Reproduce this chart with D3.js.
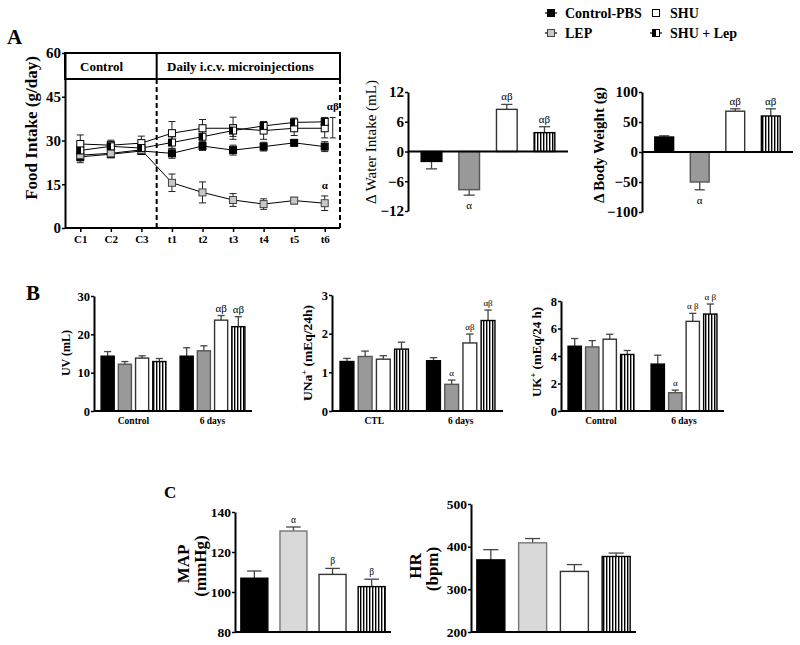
<!DOCTYPE html>
<html><head><meta charset="utf-8">
<script src="https://cdn.jsdelivr.net/npm/d3@7"></script>
<style>
body{margin:0;background:#fff}
svg{display:block}
text{font-family:"Liberation Serif","Times New Roman",serif;font-weight:bold;fill:#000}
</style>
</head><body>
<svg id="c" width="800" height="645"></svg>
<script>
// ---------------- DATA ----------------
const groups = ["Control-PBS", "LEP", "SHU", "SHU + Lep"];
const days = ["C1", "C2", "C3", "t1", "t2", "t3", "t4", "t5", "t6"];
const foodTicks = [0, 15, 30, 45, 60];
const foodControlPBS    = [24.4, 25.3, 26.4, 25.6, 28.1, 26.7, 27.9, 29.2, 27.9];
const foodControlPBSErr = [2.0, 1.2, 1.0, 1.7, 1.5, 1.7, 1.5, 1.0, 1.7];
const foodLEP           = [25.0, 25.6, 26.8, 15.5, 12.2, 9.6, 8.2, 9.4, 8.5];
const foodLEPErr        = [2.0, 1.2, 1.0, 3.0, 3.6, 2.2, 1.8, 1.1, 2.5];
const foodSHU           = [28.8, 28.4, 29.1, 32.5, 34.2, 34.2, 33.4, 34.2, 34.2];
const foodSHUErr        = [3.1, 1.7, 2.4, 4.0, 3.0, 3.8, 3.0, 2.5, 3.3];
const foodSHULep        = [26.6, 28.0, 27.4, 29.3, 31.3, 33.4, 35.0, 36.2, 36.4];
const foodSHULepErr     = [2.0, 1.5, 1.5, 2.0, 2.0, 2.0, 1.5, 1.5, 1.5];

const waterTicks = [-12, -6, 0, 6, 12];
const waterIntake = [-2.0, -7.7, 8.5, 3.8];
const waterErr    = [1.5, 1.1, 1.0, 1.2];
const waterSig    = ["", "α", "αβ", "αβ"];

const bodyTicks = [-100, -50, 0, 50, 100];
const bodyWeight = [25, -50, 68, 60];
const bodyErr    = [2, 13, 4, 12];
const bodySig    = ["", "α", "αβ", "αβ"];

const uvCats = ["Control", "6 days"];
const uvTicks = [0, 10, 20, 30];
const uvControl = [14.3, 12.2, 13.8, 12.9];
const uvControlErr = [1.2, 0.7, 0.6, 0.8];
const uv6Days = [14.3, 15.7, 23.7, 22.0];
const uv6DaysErr = [2.2, 1.3, 1.2, 2.6];
const uv6DaysSig = ["", "", "αβ", "αβ"];

const unaCats = ["CTL", "6 days"];
const unaTicks = [0, 1, 2, 3];
const unaControl = [1.28, 1.41, 1.34, 1.60];
const unaControlErr = [0.08, 0.14, 0.09, 0.18];
const una6Days = [1.30, 0.69, 1.76, 2.34];
const una6DaysErr = [0.08, 0.11, 0.23, 0.27];
const una6DaysSig = ["", "α", "αβ", "αβ"];

const ukCats = ["Control", "6 days"];
const ukTicks = [0, 2, 4, 6, 8];
const ukControl = [4.71, 4.66, 5.22, 4.11];
const ukControlErr = [0.56, 0.46, 0.36, 0.29];
const uk6Days = [3.41, 1.33, 6.52, 7.05];
const uk6DaysErr = [0.65, 0.19, 0.58, 0.73];
const uk6DaysSig = ["", "α", "α β", "α β"];

const mapTicks = [80, 100, 120, 140];
const mapValues = [106.9, 130.5, 108.8, 102.7];
const mapErr    = [3.6, 2.0, 3.0, 3.7];
const mapSig    = ["", "α", "β", "β"];

const hrTicks = [200, 300, 400, 500];
const hrValues = [369, 409, 342, 377];
const hrErr    = [24, 10, 16, 8];
const hrSig    = ["", "", "", ""];

// ---------------- DRAWING ----------------
const FONT = '"Liberation Serif","Times New Roman",serif';
const svg = d3.select("#c");
const defs = svg.append("defs");
const pat = defs.append("pattern").attr("id", "stripes")
  .attr("patternUnits", "userSpaceOnUse").attr("width", 3).attr("height", 10);
pat.append("rect").attr("width", 3).attr("height", 10).attr("fill", "#fff");
pat.append("rect").attr("width", 1.4).attr("height", 10).attr("fill", "#000");
const half = defs.append("linearGradient").attr("id", "halfblack");
half.append("stop").attr("offset", "0%").attr("stop-color", "#000");
half.append("stop").attr("offset", "55%").attr("stop-color", "#000");
half.append("stop").attr("offset", "55%").attr("stop-color", "#fff");
half.append("stop").attr("offset", "100%").attr("stop-color", "#fff");

function styleAxis(sel, size) {
  sel.select(".domain").attr("stroke", "#000").attr("stroke-width", 2);
  sel.selectAll(".tick line").attr("stroke", "#000").attr("stroke-width", 1.5);
  sel.selectAll(".tick text").style("font-family", FONT).style("font-weight", "bold")
    .style("font-size", size + "px").attr("fill", "#000");
}

// panel letters
svg.append("text").attr("x", 7).attr("y", 44).style("font-size", "21px").text("A");
svg.append("text").attr("x", 26).attr("y", 300).style("font-size", "21px").text("B");
svg.append("text").attr("x", 164).attr("y", 498).style("font-size", "17px").text("C");

// ---------- Panel A: food intake line chart ----------
(function () {
  const x = d3.scalePoint().domain(days).range([65, 340]).padding(0.5);
  const y = d3.scaleLinear().domain([0, 60]).range([228, 53]);
  const g = svg.append("g");
  const xDiv = (x("C3") + x("t1")) / 2;
  const yHead = 79;
  g.append("rect").attr("x", 65).attr("y", y(60)).attr("width", 275).attr("height", yHead - y(60))
    .attr("fill", "none").attr("stroke", "#000").attr("stroke-width", 2);
  g.append("line").attr("x1", xDiv).attr("x2", xDiv).attr("y1", y(60)).attr("y2", yHead)
    .attr("stroke", "#000").attr("stroke-width", 2);
  g.append("line").attr("x1", xDiv).attr("x2", xDiv).attr("y1", yHead).attr("y2", y(0))
    .attr("stroke", "#000").attr("stroke-width", 2).attr("stroke-dasharray", "5,3");
  g.append("line").attr("x1", 340).attr("x2", 340).attr("y1", yHead).attr("y2", y(0))
    .attr("stroke", "#000").attr("stroke-width", 2).attr("stroke-dasharray", "5,3");
  g.append("text").attr("x", 80).attr("y", 71).style("font-size", "13px").text("Control");
  g.append("text").attr("x", 167).attr("y", 71).style("font-size", "13px").text("Daily i.c.v. microinjections");

  const ya = g.append("g").attr("transform", "translate(65,0)")
    .call(d3.axisLeft(y).tickValues(foodTicks).tickFormat(d3.format("~g")).tickSize(3).tickPadding(1).tickSizeOuter(0));
  styleAxis(ya, 15);
  const xa = g.append("g").attr("transform", `translate(0,${y(0)})`)
    .call(d3.axisBottom(x).tickSize(4).tickPadding(3).tickSizeOuter(0));
  styleAxis(xa, 11);
  xa.select(".domain").attr("d", "M65,0H340");

  g.append("text").attr("transform", `translate(37,128) rotate(-90)`)
    .attr("text-anchor", "middle").style("font-size", "17px").text("Food Intake (g/day)");

  const series = [
    { v: foodControlPBS, e: foodControlPBSErr, fill: "#000", stroke: "#000" },
    { v: foodLEP, e: foodLEPErr, fill: "#c8c8c8", stroke: "#444" },
    { v: foodSHU, e: foodSHUErr, fill: "#fff", stroke: "#000" },
    { v: foodSHULep, e: foodSHULepErr, fill: "url(#halfblack)", stroke: "#000" }
  ];
  const line = d3.line().x((d, i) => x(days[i])).y(d => y(d));
  series.forEach(s => {
    g.append("path").attr("d", line(s.v)).attr("fill", "none").attr("stroke", "#000").attr("stroke-width", 1);
  });
  series.forEach(s => {
    s.v.forEach((v, i) => {
      const cx = x(days[i]);
      const t = y(v + s.e[i]), b = y(v - s.e[i]);
      g.append("line").attr("x1", cx).attr("x2", cx).attr("y1", t).attr("y2", b).attr("stroke", "#222").attr("stroke-width", 1);
      [t, b].forEach(yy => g.append("line").attr("x1", cx - 3.5).attr("x2", cx + 3.5).attr("y1", yy).attr("y2", yy)
        .attr("stroke", "#222").attr("stroke-width", 1));
    });
  });
  series.forEach(s => {
    s.v.forEach((v, i) => {
      g.append("rect").attr("x", x(days[i]) - 3.5).attr("y", y(v) - 3.5).attr("width", 7).attr("height", 7)
        .attr("fill", s.fill).attr("stroke", s.stroke).attr("stroke-width", 1);
    });
  });
  const last = days.length - 1;
  const bTop = y(foodSHULep[last] + foodSHULepErr[last]);
  const bBot = y(foodSHU[last] - foodSHUErr[last]);
  const bx = x(days[last]) + 8;
  g.append("line").attr("x1", bx).attr("x2", bx).attr("y1", bTop).attr("y2", bBot).attr("stroke", "#222");
  [bTop, bBot].forEach(yy => g.append("line").attr("x1", bx - 3).attr("x2", bx + 3).attr("y1", yy).attr("y2", yy).attr("stroke", "#222"));
  g.append("text").attr("x", bx).attr("y", bTop - 7).attr("text-anchor", "middle").style("font-size", "11px").text("αβ");
  g.append("text").attr("x", x(days[last])).attr("y", y(foodLEP[last] + foodLEPErr[last]) - 7)
    .attr("text-anchor", "middle").style("font-size", "11px").text("α");
})();

// ---------- Legend ----------
(function () {
  const g = svg.append("g");
  const items = [
    { name: groups[0], x: 551, y: 13, fill: "#000", stroke: "#000", line: true },
    { name: groups[1], x: 551, y: 33, fill: "#c8c8c8", stroke: "#444", line: true },
    { name: groups[2], x: 656, y: 13, fill: "#fff", stroke: "#000", line: false },
    { name: groups[3], x: 656, y: 33, fill: "url(#halfblack)", stroke: "#000", line: true }
  ];
  items.forEach(it => {
    if (it.line) g.append("line").attr("x1", it.x - 6).attr("x2", it.x + 6).attr("y1", it.y).attr("y2", it.y)
      .attr("stroke", "#000").attr("stroke-width", 1.2);
    g.append("rect").attr("x", it.x - 3.5).attr("y", it.y - 3.5).attr("width", 7).attr("height", 7)
      .attr("fill", it.fill).attr("stroke", it.stroke).attr("stroke-width", 1);
    g.append("text").attr("x", it.x + 14).attr("y", it.y + 5).style("font-size", "14px").text(it.name);
  });
})();

// ---------- Bar panel helper ----------
function barPanel(o) {
  const g = svg.append("g");
  const y = d3.scaleLinear().domain(o.domain).range([o.yBottom, o.yTop]);
  const xc = d3.scaleBand().domain(o.cats).range([o.x0, o.x1]).paddingInner(o.catPi || 0).paddingOuter(o.catPo || 0);
  const xb = d3.scaleBand().domain(groups).range([0, xc.bandwidth()]).paddingInner(o.pi).paddingOuter(o.po);
  const fills = ["#000", o.gray, "#fff", "url(#stripes)"];
  const strokes = ["#000", o.grayStroke, "#333", "#000"];
  const base = o.base;
  o.cats.forEach((c, ci) => {
    const vals = o.values[ci], errs = o.errs[ci], sigs = o.sigs[ci];
    groups.forEach((gn, gi) => {
      const v = vals[gi], e = errs[gi];
      const bw = xb.bandwidth();
      const bx = xc(c) + xb(gn);
      const cx = bx + bw / 2;
      const dir = v >= base ? 1 : -1;
      const ye = y(v + dir * e);
      g.append("line").attr("x1", cx).attr("x2", cx).attr("y1", y(v)).attr("y2", ye)
        .attr("stroke", "#444").attr("stroke-width", 1.3);
      g.append("line").attr("x1", cx - bw * 0.27).attr("x2", cx + bw * 0.27).attr("y1", ye).attr("y2", ye)
        .attr("stroke", "#444").attr("stroke-width", 1.3);
      g.append("rect").attr("x", bx).attr("y", Math.min(y(v), y(base))).attr("width", bw)
        .attr("height", Math.abs(y(v) - y(base)))
        .attr("fill", fills[gi]).attr("stroke", strokes[gi]).attr("stroke-width", 1.4);
      if (sigs && sigs[gi]) {
        g.append("text").attr("x", cx).attr("y", dir > 0 ? ye - 4 : ye + o.sigSize + 3)
          .attr("text-anchor", "middle").style("font-size", o.sigSize + "px").style("font-weight", "normal")
          .text(sigs[gi]);
      }
    });
    if (c) g.append("text").attr("x", xc(c) + xc.bandwidth() / 2).attr("y", o.yBottom + 13)
      .attr("text-anchor", "middle").style("font-size", o.catSize + "px").text(c);
  });
  g.append("line").attr("x1", o.x0).attr("x2", o.x1).attr("y1", y(base)).attr("y2", y(base))
    .attr("stroke", "#000").attr("stroke-width", 2);
  const ya = g.append("g").attr("transform", `translate(${o.x0},0)`)
    .call(d3.axisLeft(y).tickValues(o.ticks).tickFormat(d3.format("~g")).tickSize(3).tickPadding(1).tickSizeOuter(0));
  styleAxis(ya, o.tickSize);
  return { g, y };
}

function yLabel(x, yc, size, weight, parts) {
  const t = svg.append("text").attr("transform", `translate(${x},${yc}) rotate(-90)`)
    .attr("text-anchor", "middle").style("font-size", size + "px").style("font-weight", weight);
  parts.forEach(p => {
    const ts = t.append("tspan").text(p.t);
    if (p.sup) ts.attr("baseline-shift", "super").style("font-size", (size * 0.65) + "px");
  });
  return t;
}

// Panel A bars
barPanel({ x0: 408, x1: 568, yTop: 92, yBottom: 211, domain: [-12, 12], ticks: waterTicks, base: 0,
  cats: [""], values: [waterIntake], errs: [waterErr], sigs: [waterSig], pi: 0.45, po: 0.35,
  gray: "#999", grayStroke: "#555", sigSize: 11, catSize: 10, tickSize: 15 });
yLabel(376, 142, 15, "normal", [{ t: "Δ Water Intake (mL)" }]);

barPanel({ x0: 642, x1: 793, yTop: 92, yBottom: 212, domain: [-100, 100], ticks: bodyTicks, base: 0,
  cats: [""], values: [bodyWeight], errs: [bodyErr], sigs: [bodySig], pi: 0.47, po: 0.36,
  gray: "#999", grayStroke: "#555", sigSize: 11, catSize: 10, tickSize: 15 });
yLabel(604, 145, 15, "bold", [{ t: "Δ Body Weight (g)" }]);

// Panel B
barPanel({ x0: 94, x1: 252, yTop: 296, yBottom: 411, domain: [0, 30], ticks: uvTicks, base: 0,
  cats: uvCats, values: [uvControl, uv6Days], errs: [uvControlErr, uv6DaysErr], sigs: [null, uv6DaysSig],
  catPi: 0.18, catPo: 0.09, pi: 0.24, po: 0, gray: "#999", grayStroke: "#555", sigSize: 11, catSize: 9.5, tickSize: 12.5 });
yLabel(70, 353, 12, "bold", [{ t: "UV (mL)" }]);

barPanel({ x0: 332, x1: 503, yTop: 295, yBottom: 411, domain: [0, 3], ticks: unaTicks, base: 0,
  cats: unaCats, values: [unaControl, una6Days], errs: [unaControlErr, una6DaysErr], sigs: [null, una6DaysSig],
  catPi: 0.21, catPo: 0.093, pi: 0.24, po: 0, gray: "#999", grayStroke: "#555", sigSize: 9, catSize: 9.5, tickSize: 12.5 });
yLabel(312, 353, 13.5, "bold", [{ t: "UNa" }, { t: "+", sup: true }, { t: " (mEq/24h)" }]);

barPanel({ x0: 561, x1: 724, yTop: 301, yBottom: 411, domain: [0, 8], ticks: ukTicks, base: 0,
  cats: ukCats, values: [ukControl, uk6Days], errs: [ukControlErr, uk6DaysErr], sigs: [null, uk6DaysSig],
  catPi: 0.207, catPo: 0.085, pi: 0.24, po: 0, gray: "#999", grayStroke: "#555", sigSize: 9, catSize: 9.5, tickSize: 12.5 });
yLabel(541, 352, 13, "bold", [{ t: "UK" }, { t: "+", sup: true }, { t: " (mEq/24 h)" }]);

// Panel C
barPanel({ x0: 235, x1: 391, yTop: 512, yBottom: 632, domain: [80, 140], ticks: mapTicks, base: 80,
  cats: [""], values: [mapValues], errs: [mapErr], sigs: [mapSig], pi: 0.31, po: 0.15,
  gray: "#d9d9d9", grayStroke: "#777", sigSize: 9.5, catSize: 10, tickSize: 13.5 });
yLabel(189, 564, 17, "bold", [{ t: "MAP" }]);
yLabel(206, 566, 17, "bold", [{ t: "(mmHg)" }]);

barPanel({ x0: 471, x1: 636, yTop: 504, yBottom: 632, domain: [200, 500], ticks: hrTicks, base: 200,
  cats: [""], values: [hrValues], errs: [hrErr], sigs: [hrSig], pi: 0.33, po: 0.14,
  gray: "#d9d9d9", grayStroke: "#777", sigSize: 9.5, catSize: 10, tickSize: 13.5 });
yLabel(421, 566, 17, "bold", [{ t: "HR" }]);
yLabel(438, 569, 17, "bold", [{ t: "(bpm)" }]);
</script>
</body></html>
